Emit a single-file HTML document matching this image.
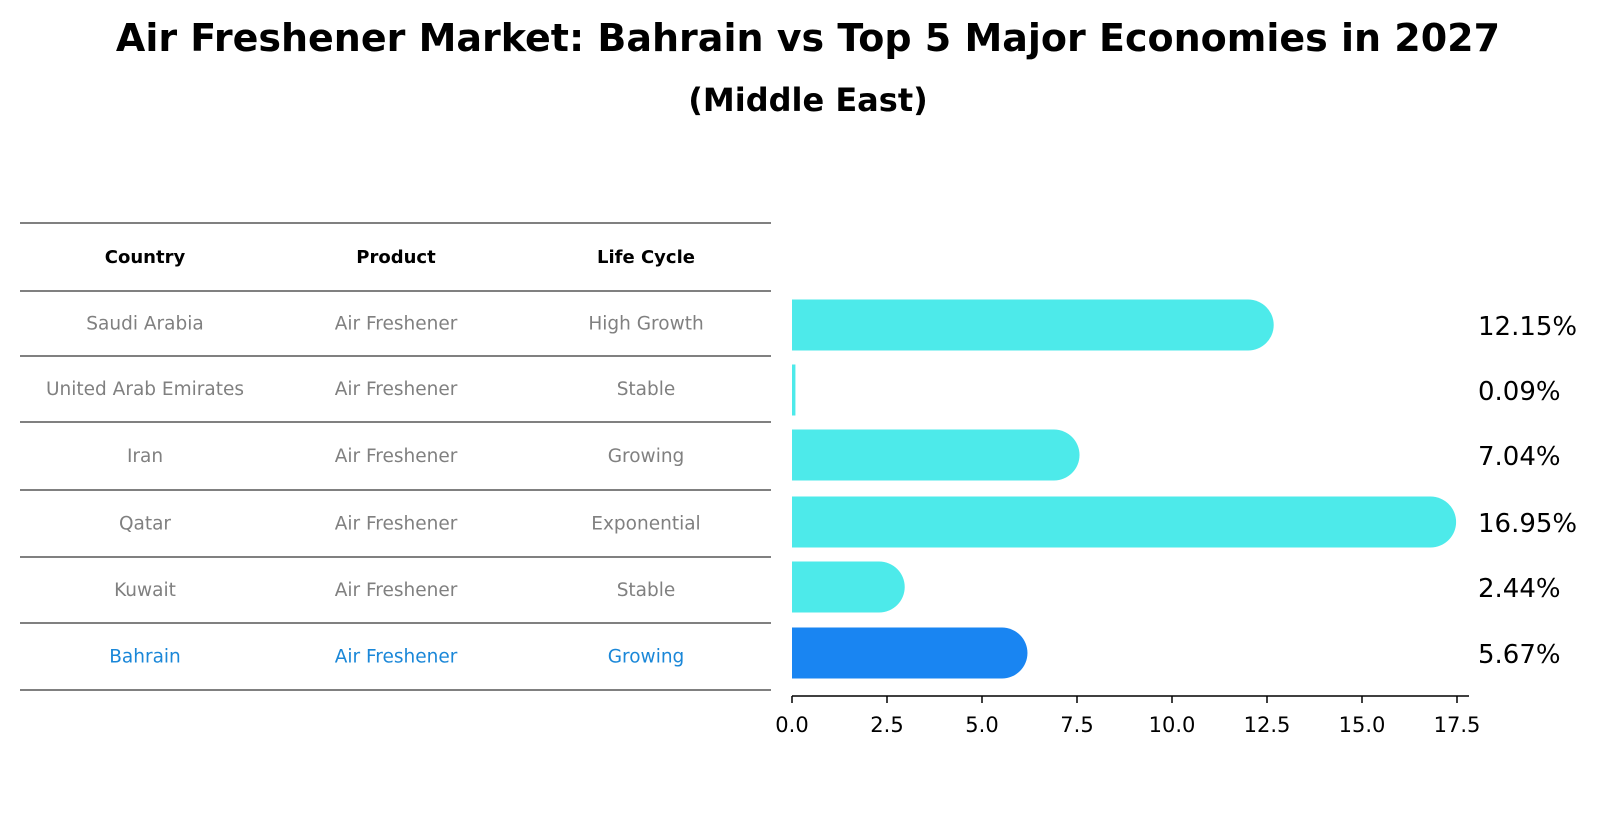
<!DOCTYPE html>
<html><head><meta charset="utf-8"><style>
body{margin:0;background:#fff;}
svg{font-family:"DejaVu Sans","Liberation Sans",sans-serif;}
</style></head><body>
<svg width="1604" height="823" viewBox="0 0 1604 823" xmlns="http://www.w3.org/2000/svg">
<text x="808" y="51" text-anchor="middle" font-size="38" font-weight="bold">Air Freshener Market: Bahrain vs Top 5 Major Economies in 2027</text>
<text x="808" y="111" text-anchor="middle" font-size="32" font-weight="bold">(Middle East)</text>
<g id="table"></g>
<g id="bars"></g>
</svg>
<script>
const countries=["Saudi Arabia","United Arab Emirates","Iran","Qatar","Kuwait","Bahrain"];
const products=["Air Freshener","Air Freshener","Air Freshener","Air Freshener","Air Freshener","Air Freshener"];
const lifeCycles=["High Growth","Stable","Growing","Exponential","Stable","Growing"];
const values=[12.15,0.09,7.04,16.95,2.44,5.67];
const ticks=[0,2.5,5,7.5,10,12.5,15,17.5];
const NS="http://www.w3.org/2000/svg";
function mk(tag,attrs,parent){const e=document.createElementNS(NS,tag);for(const k in attrs)e.setAttribute(k,attrs[k]);parent.appendChild(e);return e;}
const tbl=document.getElementById('table');
const rowY=[223,291,356,422,490,557,623,690];
rowY.forEach(y=>{const l=mk('line',{x1:20,x2:771,y1:y,y2:y,stroke:'#000','stroke-width':1},tbl);

});
const colX=[145,396,646];
["Country","Product","Life Cycle"].forEach((h,i)=>{const t=mk('text',{x:colX[i],y:(rowY[0]+rowY[1])/2+6,'text-anchor':'middle','font-size':18,'font-weight':'bold'},tbl);t.textContent=h;

});
countries.forEach((c,r)=>{const y=(rowY[r+1]+rowY[r+2])/2+6;const col=c==="Bahrain"?'#1a87d8':'#808080';
[c,products[r],lifeCycles[r]].forEach((v,i)=>{const t=mk('text',{x:colX[i],y:y,'text-anchor':'middle','font-size':18.5,fill:col},tbl);t.textContent=v;

});});
const g=document.getElementById('bars');
const x0=792,x1=1457,vmax=17.5;
const xs=v=>x0+(x1-x0)*v/vmax;
const centers=[325,390,455,522,587,653];const h=51,r=25.5;
values.forEach((v,i)=>{const cy=centers[i];const col=countries[i]==="Bahrain"?'#1985f2':'#4deaea';
let el;
if(v<0.5){el=mk('rect',{x:x0,y:cy-h/2,width:Math.max(3,xs(v)-x0),height:h,fill:col},g);}
else{const xe=xs(v)+20;const xr=Math.max(x0,xe-r);
el=mk('path',{d:`M${x0},${cy-h/2} L${xr},${cy-h/2} A${r},${r} 0 0 1 ${xr},${cy+h/2} L${x0},${cy+h/2} Z`,fill:col},g);}


const t=mk('text',{x:1478,y:cy+10,'font-size':26},g);t.textContent=v.toFixed(2)+'%';

});
const ax=mk('line',{x1:x0,x2:1469,y1:696,y2:696,stroke:'#000','stroke-width':1.5},g);


ticks.forEach(v=>{const tk=mk('line',{x1:xs(v),x2:xs(v),y1:696,y2:703,stroke:'#000','stroke-width':1.5},g);


const t=mk('text',{x:xs(v),y:732,'text-anchor':'middle','font-size':21},g);t.textContent=v.toFixed(1);

});
</script>
</body></html>
